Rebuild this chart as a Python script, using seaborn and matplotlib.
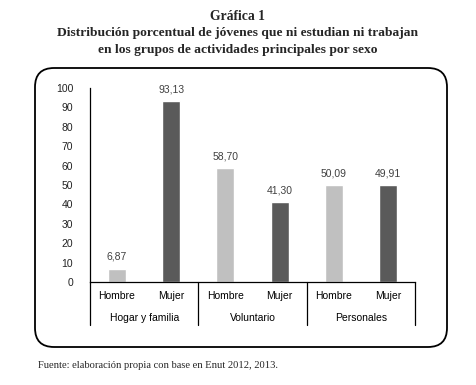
import pandas as pd
import matplotlib.pyplot as plt
import seaborn as sns
from matplotlib.patches import FancyBboxPatch
from matplotlib.transforms import blended_transform_factory

# datos
grupos = ['Hogar y familia', 'Voluntario', 'Personales']
sexos = ['Hombre', 'Mujer']
hombre = [6.87, 58.70, 50.09]
mujer = [93.13, 41.30, 49.91]
colores = {'Hombre': '#c0c0c0', 'Mujer': '#5a5a5a'}

rows = []
for g, h, m in zip(grupos, hombre, mujer):
    rows.append({'pos': g + ' H', 'grupo': g, 'sexo': 'Hombre', 'valor': h})
    rows.append({'pos': g + ' M', 'grupo': g, 'sexo': 'Mujer', 'valor': m})
df = pd.DataFrame(rows)

sns.set_style('white')
plt.rcParams['font.family'] = ['Liberation Sans', 'DejaVu Sans']

fig = plt.figure(figsize=(4.76, 3.85), dpi=100)
ax = fig.add_axes([0.189, 0.2675, 0.683, 0.504])

sns.barplot(data=df, x='pos', y='valor', hue='sexo', palette=colores,
            dodge=False, width=0.33, legend=False, ax=ax)

ax.set_xlim(-0.5, 5.5)
ax.set_ylim(0, 100)
ax.set_yticks(range(0, 101, 10))
ax.tick_params(axis='y', length=0, pad=12, labelsize=7.5, labelcolor='#222222')
ax.set_xticks([])
ax.set_xlabel('')
ax.set_ylabel('')
for s in ['top', 'right']:
    ax.spines[s].set_visible(False)
for s in ['left', 'bottom']:
    ax.spines[s].set_color('black')
    ax.spines[s].set_linewidth(0.9)

# etiquetas de valor
for i, v in enumerate(df['valor']):
    ax.text(i, v + 3.5, f'{v:.2f}'.replace('.', ','), ha='center', va='bottom',
            fontsize=7.5, color='#404040')

# eje categórico de dos niveles
trans = blended_transform_factory(ax.transData, ax.transAxes)
for xs in [-0.5, 1.5, 3.5, 5.5]:
    ax.plot([xs, xs], [0, -0.222], transform=trans, color='black', lw=0.9,
            clip_on=False)
for i, row in df.iterrows():
    ax.text(i, -0.072, row['sexo'], transform=trans, ha='center', va='center',
            fontsize=7.5, color='black')
for j, g in enumerate(grupos):
    ax.text(2 * j + 0.5, -0.185, g, transform=trans, ha='center', va='center',
            fontsize=7.5, color='black')

# marco redondeado
box = FancyBboxPatch((35 / 476, 1 - 347 / 385), (447 - 35) / 476, (347 - 68) / 385,
                     boxstyle='round,pad=0,rounding_size=0.04',
                     transform=fig.transFigure, fill=False, edgecolor='black',
                     linewidth=1.3, mutation_aspect=476 / 385)
fig.patches.append(box)

# títulos
serif = ['Liberation Serif', 'DejaVu Serif']
fig.text(0.5, 1 - 17 / 385, 'Gráfica 1', ha='center', va='center',
         fontsize=9.8, fontweight='bold', family=serif)
fig.text(0.5, 1 - 33 / 385, 'Distribución porcentual de jóvenes que ni estudian ni trabajan',
         ha='center', va='center', fontsize=9.7, fontweight='bold', family=serif)
fig.text(0.5, 1 - 50 / 385, 'en los grupos de actividades principales por sexo',
         ha='center', va='center', fontsize=9.7, fontweight='bold', family=serif)
fig.text(38 / 476, 1 - 366 / 385, 'Fuente: elaboración propia con base en Enut 2012, 2013.',
         ha='left', va='center', fontsize=7.6, family=serif)

fig.savefig('out.png', dpi=100, facecolor='white')
